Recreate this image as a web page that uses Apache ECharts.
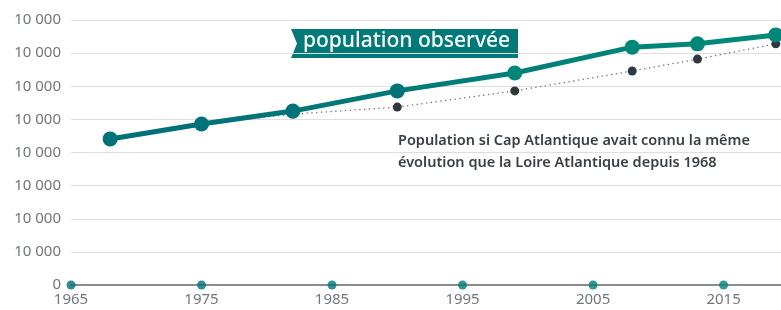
<!DOCTYPE html>
<html>
<head>
<meta charset="utf-8">
<script src="https://cdn.jsdelivr.net/npm/echarts@6/dist/echarts.min.js"></script>
<style>
  html, body { margin: 0; padding: 0; background: #fff; }
  #chart { width: 781px; height: 310px; }
</style>
</head>
<body>
<div id="chart"></div>
<script>
// données
var obsYears = [1968, 1975, 1982, 1990, 1999, 2008, 2013, 2019];
var obsValues = [44100, 48600, 52500, 58600, 64000, 71800, 72800, 75500];
var simYears = [1975, 1982, 1990, 1999, 2008, 2013, 2019];
var simValues = [48600, 51600, 53700, 58600, 64600, 68200, 72800];
var tickYears = [1965, 1975, 1985, 1995, 2005, 2015];
var tickColors = ['#006e78', '#007278', '#007678', '#007a78', '#007f78', '#008478'];

(function() {
	var myChart = echarts.init(document.getElementById('chart'));
	var font = '"Noto Sans", sans-serif';

	var option = {
		animation: false,
		textStyle: { fontFamily: font },
		grid: {
			left: 71,
			right: 0,
			top: 20,
			bottom: 25
		},
		xAxis: {
			type: 'value',
			min: 1965,
			max: 2019.4,
			interval: 10,
			axisLine: { show: true, lineStyle: { color: '#8a8d8f', width: 2 } },
			axisTick: { show: false },
			splitLine: { show: false },
			axisLabel: {
				color: '#737678',
				fontSize: 15,
				margin: 7,
				showMaxLabel: false,
				formatter: function(v) { return String(v); }
			}
		},
		yAxis: {
			type: 'value',
			min: 0,
			max: 80000,
			interval: 10000,
			axisLine: { show: false },
			axisTick: { show: false },
			splitLine: { lineStyle: { color: '#dedede', width: 1 } },
			axisLabel: {
				color: '#737678',
				fontSize: 15,
				margin: 10,
				// les étiquettes de l'original affichent toutes "10 000"
				formatter: function(v) { return v === 0 ? '0' : '10 000'; }
			}
		},
		series: [{
				name: 'simulation',
				type: 'line',
				data: simYears.map(function(y, i) { return [y, simValues[i]]; }),
				symbol: 'circle',
				symbolSize: 9,
				clip: false,
				lineStyle: { color: '#6a6d70', width: 1.3, type: [1.3, 3.5] },
				itemStyle: { color: '#30373d' },
				z: 2
			},
			{
				name: 'population observée',
				type: 'line',
				data: obsYears.map(function(y, i) { return [y, obsValues[i]]; }),
				symbol: 'circle',
				symbolSize: 15,
				clip: false,
				lineStyle: {
					width: 5,
					color: new echarts.graphic.LinearGradient(0, 0, 1, 0, [
						{ offset: 0, color: '#006e77' },
						{ offset: 1, color: '#008a79' }
					])
				},
				itemStyle: {
					color: function(p) {
						var t = p.dataIndex / (obsYears.length - 1);
						return t < 0.5 ? '#00737a' : '#00877a';
					}
				},
				z: 3
			},
			{
				name: 'ticks',
				type: 'scatter',
				data: tickYears.map(function(y, i) {
					return { value: [y, 0], itemStyle: { color: tickColors[i] } };
				}),
				symbolSize: 9,
				clip: false,
				z: 4
			}
		],
		graphic: [{
				type: 'polygon',
				shape: {
					points: [[291, 29], [518, 29], [518, 58], [291, 58], [297, 43.5]]
				},
				style: { fill: '#007a78' }
			},
			{
				type: 'text',
				left: 303,
				top: 31,
				style: {
					text: 'population observée',
					fill: '#ffffff',
					font: '500 21px ' + font
				}
			},
			{
				type: 'text',
				left: 398,
				top: 130,
				style: {
					text: 'Population si Cap Atlantique avait connu la même\névolution que la Loire Atlantique depuis 1968',
					fill: '#3a3f44',
					font: '600 14.5px ' + font,
					lineHeight: 22
				}
			}
		]
	};
	myChart.setOption(option);
	window.addEventListener('resize', function() {
		myChart.resize();
	});
})();
</script>
</body>
</html>
